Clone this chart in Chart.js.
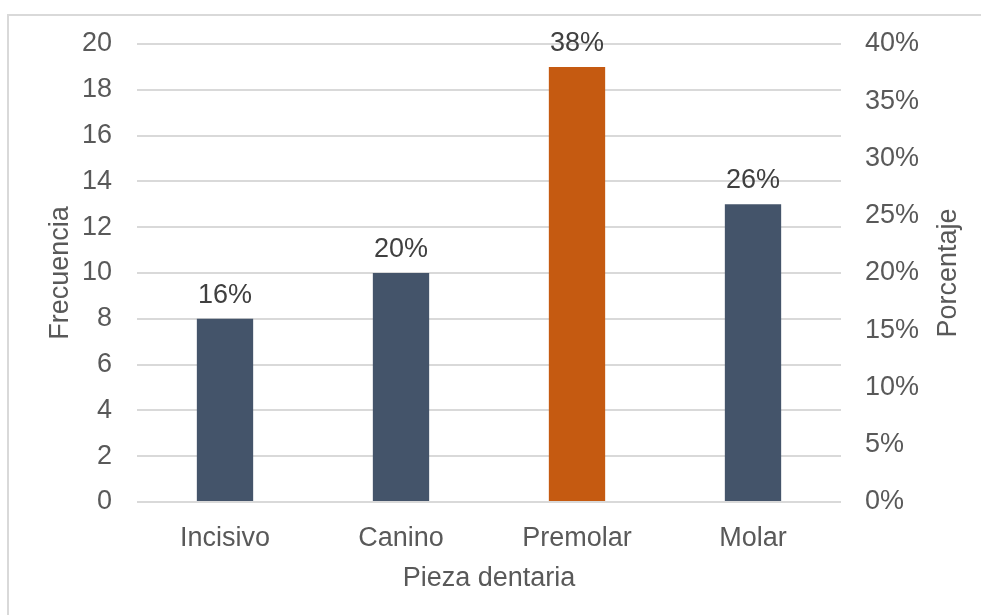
<!DOCTYPE html>
<html>
<head>
<meta charset="utf-8">
<script src="https://cdn.jsdelivr.net/npm/chart.js@4"></script>
<style>
    html, body { margin: 0; padding: 0; background: #fff; }
    #wrap { position: relative; width: 981px; height: 615px; overflow: hidden; }
    #frame { position: absolute; left: 7px; top: 14px; width: 1000px; height: 700px;
             border-left: 2px solid #d9d9d9; border-top: 2px solid #d9d9d9; }
    canvas { position: absolute; left: 0; top: 0; }
</style>
</head>
<body>
<div id="wrap">
    <div id="frame"></div>
    <canvas id="chart" width="981" height="615"></canvas>
</div>
<script>
const categories = ['Incisivo', 'Canino', 'Premolar', 'Molar'];
const frequency = [8, 10, 19, 13];
const percentages = [16, 20, 38, 26];
const barColors = ['#44546A', '#44546A', '#C55A11', '#44546A'];

const fontFamily = '"Liberation Sans", Arial, sans-serif';
const tickFont = { family: fontFamily, size: 27 };

// Etiquetas de porcentaje sobre cada barra
const barLabels = {
    id: 'barLabels',
    afterDatasetsDraw(chart) {
        const { ctx } = chart;
        const meta = chart.getDatasetMeta(0);
        ctx.save();
        ctx.font = `27px ${fontFamily}`;
        ctx.fillStyle = '#404040';
        ctx.textAlign = 'center';
        ctx.textBaseline = 'bottom';
        meta.data.forEach((bar, i) => {
            ctx.fillText(percentages[i] + '%', bar.x, bar.y - 10);
        });
        ctx.restore();
    },
};

// Título del eje derecho, girado como en el original
const rightTitle = {
    id: 'rightTitle',
    afterDraw(chart) {
        const { ctx, chartArea } = chart;
        ctx.save();
        ctx.font = `27px ${fontFamily}`;
        ctx.fillStyle = '#595959';
        ctx.textAlign = 'center';
        ctx.textBaseline = 'middle';
        ctx.translate(949, (chartArea.top + chartArea.bottom) / 2);
        ctx.rotate(-Math.PI / 2);
        ctx.fillText('Porcentaje', 0, 0);
        ctx.restore();
    },
};

new Chart(document.getElementById('chart'), {
    type: 'bar',
    data: {
        labels: categories,
        datasets: [
            {
                label: 'Frecuencia',
                data: frequency,
                backgroundColor: barColors,
                borderWidth: 0,
                categoryPercentage: 1,
                barPercentage: 0.32,
                yAxisID: 'y',
            },
        ],
    },
    options: {
        devicePixelRatio: 1,
        responsive: false,
        maintainAspectRatio: false,
        animation: false,
        layout: {
            padding: { top: 44, right: 0, bottom: 0, left: 0 },
        },
        plugins: {
            legend: { display: false },
            tooltip: { enabled: false },
        },
        scales: {
            x: {
                grid: { display: false },
                border: { display: false },
                ticks: { color: '#595959', font: tickFont, padding: 12 },
                title: {
                    display: true,
                    text: 'Pieza dentaria',
                    color: '#595959',
                    font: tickFont,
                    padding: { top: 0, bottom: 20 },
                },
                afterFit: (scale) => { scale.height = 113; },
            },
            y: {
                position: 'left',
                min: 0,
                max: 20,
                grid: { color: '#d9d9d9', lineWidth: 2, drawTicks: false },
                border: { display: false },
                ticks: { stepSize: 2, color: '#595959', font: tickFont, padding: 25 },
                title: {
                    display: true,
                    text: 'Frecuencia',
                    color: '#595959',
                    font: tickFont,
                    padding: { top: 44, bottom: 0 },
                },
                afterFit: (scale) => { scale.width = 137; },
            },
            y1: {
                position: 'right',
                min: 0,
                max: 0.4,
                grid: { display: false, drawTicks: false },
                border: { display: false },
                ticks: {
                    stepSize: 0.05,
                    color: '#595959',
                    font: tickFont,
                    padding: 24,
                    callback: (v) => Math.round(v * 100) + '%',
                },
                afterFit: (scale) => { scale.width = 140; },
            },
        },
    },
    plugins: [barLabels, rightTitle],
});
</script>
</body>
</html>
